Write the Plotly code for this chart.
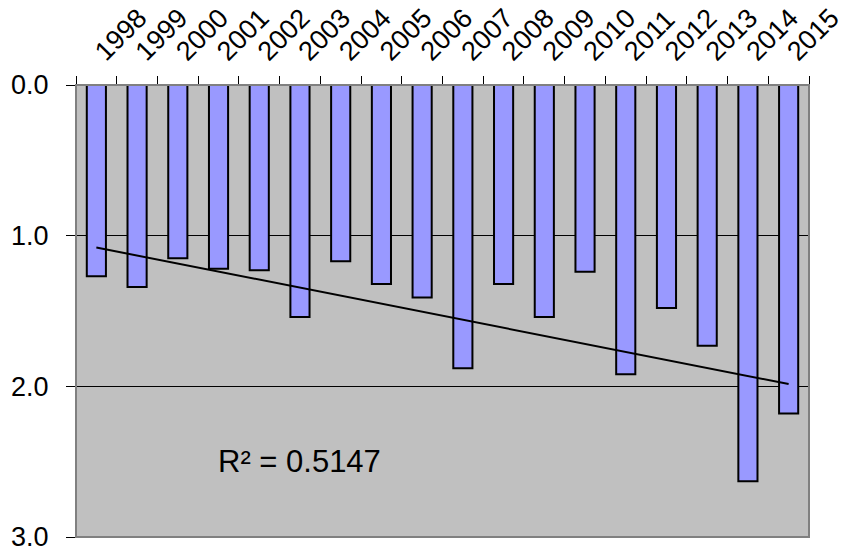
import numpy as np
import plotly.graph_objects as go

years = [str(y) for y in range(1998, 2016)]
values = [1.27, 1.34, 1.15, 1.22, 1.23, 1.54, 1.17, 1.32, 1.41, 1.88,
          1.32, 1.54, 1.24, 1.92, 1.48, 1.73, 2.63, 2.18]
r2_label = "R² = 0.5147"

idx = np.arange(len(values))
slope, intercept = np.polyfit(idx, values, 1)
trend_y = [intercept + slope * idx[0], intercept + slope * idx[-1]]

fig = go.Figure()
fig.add_trace(go.Bar(
    x=years, y=values, width=0.47,
    marker=dict(color="#9999FF", line=dict(color="black", width=2)),
    showlegend=False, hoverinfo="x+y",
))
fig.add_trace(go.Scatter(
    x=[years[0], years[-1]], y=trend_y, mode="lines",
    line=dict(color="black", width=2), showlegend=False, hoverinfo="skip",
))

fig.add_annotation(x=5, y=2.5, text=r2_label, showarrow=False,
                   font=dict(family="Liberation Sans, Arial", size=31, color="black"))

fig.add_shape(type="rect", xref="paper", yref="paper", x0=0, y0=0, x1=1, y1=1,
              line=dict(color="#808080", width=2), layer="above")

fig.update_layout(
    width=847, height=549,
    margin=dict(l=76, r=38, t=85, b=12, autoexpand=False),
    paper_bgcolor="white", plot_bgcolor="#C0C0C0",
    font=dict(family="Liberation Sans, Arial", color="black"),
)
fig.update_xaxes(
    side="top", type="category", tickangle=-45,
    tickfont=dict(size=27), ticks="outside", ticklen=8, tickcolor="black",
    tickson="boundaries", showline=True, linecolor="black", linewidth=1,
    showgrid=False, range=[-0.5, len(years) - 0.5], automargin=False,
    ticklabelstandoff=7, ticklabeloverflow="allow",
)
fig.update_yaxes(
    range=[3, 0], tickvals=[0, 1, 2, 3], tickformat=".1f",
    tickfont=dict(size=27), ticks="outside", ticklen=9, tickcolor="black",
    showline=True, linecolor="#404040", linewidth=1, automargin=False,
    showgrid=True, gridcolor="black", gridwidth=1, zeroline=False,
    ticklabelstandoff=12, ticklabeloverflow="allow",
)

fig.write_html("out.html", config={"displayModeBar": False},
               post_script="document.body.style.margin='0';")
